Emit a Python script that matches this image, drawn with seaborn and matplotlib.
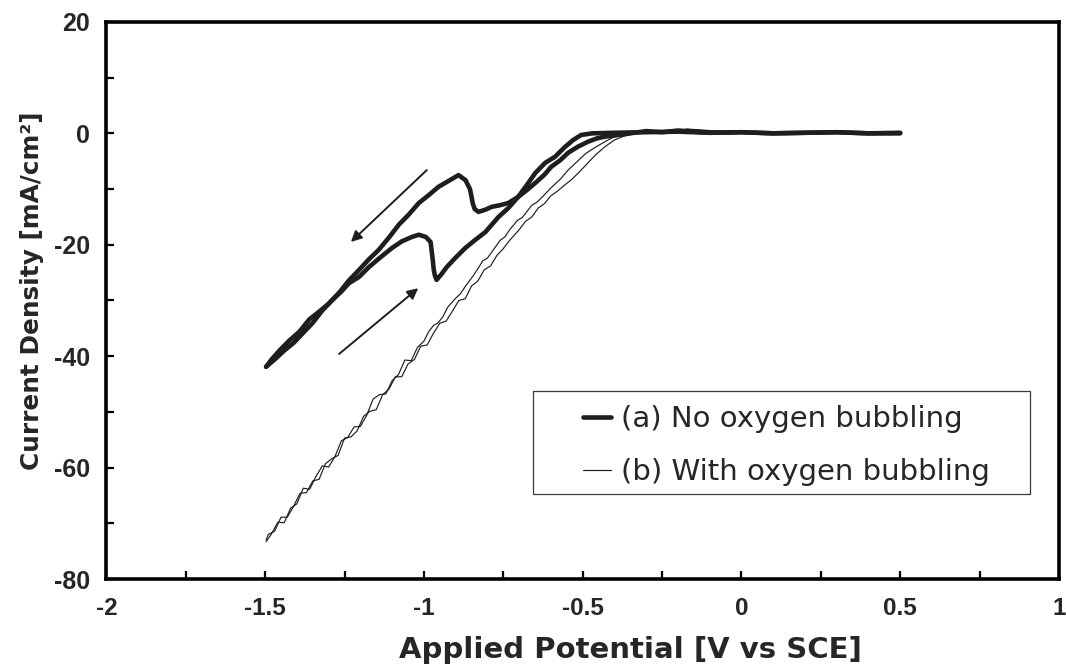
import matplotlib
matplotlib.use("Agg")
import matplotlib.pyplot as plt
import pandas as pd
import seaborn as sns
from matplotlib.lines import Line2D
from matplotlib.patches import Rectangle
from matplotlib.ticker import MultipleLocator

# (a) No oxygen bubbling: cathodic sweep 0.5 V -> -1.5 V
a_fwd_v = [0.50, 0.40, 0.30, 0.20, 0.10, 0.00, -0.10, -0.20, -0.30, -0.40,
           -0.47, -0.505, -0.53, -0.555, -0.587, -0.618, -0.649, -0.671, -0.703, -0.734,
           -0.760, -0.787, -0.806, -0.828, -0.840, -0.846, -0.850, -0.855, -0.869, -0.891,
           -0.915, -0.954, -0.985, -1.016, -1.048, -1.079, -1.110, -1.142, -1.173, -1.204,
           -1.236, -1.267, -1.300, -1.330, -1.361, -1.392, -1.424, -1.455, -1.480, -1.497]
a_fwd_j = [0.1, 0.0, 0.2, 0.1, 0.0, 0.2, 0.1, 0.3, 0.2, 0.1,
           0.0, -0.3, -1.2, -2.4, -4.2, -5.3, -7.1, -8.9, -11.4, -12.5,
           -12.9, -13.2, -13.7, -14.1, -13.6, -12.6, -11.4, -10.0, -8.4, -7.5,
           -8.3, -9.6, -11.1, -12.5, -14.6, -16.4, -18.7, -20.9, -22.6, -24.5,
           -26.4, -28.6, -30.6, -32.0, -33.4, -35.6, -37.2, -39.0, -40.6, -41.9]

# (a) return sweep -1.5 V -> 0.5 V
a_rev_v = [-1.497, -1.47, -1.44, -1.41, -1.38, -1.35, -1.32, -1.29, -1.26, -1.236,
           -1.205, -1.173, -1.140, -1.101, -1.070, -1.038, -1.016, -0.994, -0.979, -0.976,
           -0.972, -0.969, -0.965, -0.960, -0.945, -0.928, -0.900, -0.870, -0.840, -0.806,
           -0.765, -0.734, -0.703, -0.676, -0.649, -0.620, -0.599, -0.570, -0.546, -0.515,
           -0.483, -0.455, -0.430, -0.389, -0.35, -0.30, -0.25, -0.20, -0.15, -0.10,
           0.0, 0.1, 0.2, 0.3, 0.4, 0.5]
a_rev_j = [-41.9, -40.6, -39.0, -37.6, -35.8, -34.0, -31.8, -30.0, -28.4, -26.9,
           -25.8, -24.0, -22.4, -20.6, -19.4, -18.6, -18.2, -18.6, -19.5, -20.9,
           -22.8, -24.5, -25.6, -26.3, -25.3, -24.0, -22.3, -20.6, -19.2, -17.7,
           -15.0, -13.4, -11.4, -10.2, -8.9, -7.4, -6.0, -4.8, -3.5, -2.4,
           -1.5, -0.9, -0.6, -0.3, 0.0, 0.4, 0.2, 0.5, 0.3, 0.1,
           0.2, 0.0, 0.1, 0.2, 0.0, 0.0]

# (b) With oxygen bubbling: cathodic sweep
b_fwd_v = [0.50, 0.30, 0.10, -0.05, -0.15, -0.20, -0.30, -0.36, -0.40, -0.43,
           -0.46, -0.49, -0.52, -0.546, -0.57, -0.60, -0.625, -0.645, -0.66, -0.69,
           -0.705, -0.73, -0.745, -0.76, -0.786, -0.80, -0.815, -0.83, -0.845, -0.87,
           -0.885, -0.90, -0.925, -0.94, -0.955, -0.97, -0.985, -1.00, -1.02, -1.04,
           -1.06, -1.08, -1.10, -1.12, -1.14, -1.16, -1.18, -1.20, -1.22, -1.24,
           -1.26, -1.28, -1.30, -1.32, -1.34, -1.36, -1.38, -1.40, -1.42, -1.44,
           -1.46, -1.48, -1.497]
b_fwd_j = [0.0, 0.1, 0.0, 0.3, 0.7, 0.5, 0.3, 0.0, -0.6, -1.5,
           -2.5, -3.6, -5.2, -6.6, -8.2, -9.8, -11.3, -12.4, -12.9, -15.1,
           -15.6, -17.3, -18.6, -19.2, -21.3, -22.4, -22.9, -24.3, -25.6, -27.5,
           -28.8, -29.6, -31.2, -32.9, -34.0, -34.5, -35.6, -37.3, -38.4, -40.8,
           -40.7, -43.3, -44.4, -46.8, -46.9, -47.7, -50.6, -52.6, -52.7, -54.6,
           -55.2, -58.0, -59.9, -59.7, -61.6, -63.9, -63.7, -66.5, -67.3, -69.9,
           -69.8, -71.9, -73.3]

# (b) return sweep
b_rev_v = [-1.497, -1.49, -1.47, -1.45, -1.43, -1.41, -1.39, -1.37, -1.35, -1.33,
           -1.31, -1.29, -1.27, -1.25, -1.23, -1.21, -1.19, -1.17, -1.15, -1.13,
           -1.11, -1.09, -1.07, -1.05, -1.03, -1.01, -0.99, -0.97, -0.95, -0.93,
           -0.91, -0.89, -0.87, -0.85, -0.83, -0.81, -0.79, -0.77, -0.75, -0.73,
           -0.70, -0.68, -0.66, -0.64, -0.62, -0.60, -0.58, -0.555, -0.535, -0.51,
           -0.485, -0.46, -0.43, -0.40, -0.37, -0.34, -0.31, -0.26, -0.20, -0.17,
           -0.14, -0.10, 0.0, 0.1, 0.2, 0.3, 0.4, 0.5]
b_rev_j = [-73.0, -72.0, -71.4, -68.9, -68.9, -66.9, -64.6, -64.5, -62.4, -62.1,
           -59.3, -58.4, -57.8, -54.7, -54.5, -53.4, -50.8, -49.9, -49.6, -46.9,
           -45.9, -43.7, -43.7, -41.4, -40.6, -38.2, -38.0, -35.9, -34.1, -33.7,
           -31.9, -30.0, -29.7, -27.4, -26.5, -24.5, -23.8, -21.9, -20.7, -19.2,
           -17.3, -15.8, -15.0, -13.4, -12.6, -11.2, -10.4, -9.2, -8.3, -6.9,
           -5.4, -3.9, -2.4, -1.2, -0.5, -0.1, 0.1, 0.3, 0.4, 0.8,
           0.6, 0.3, 0.1, 0.0, 0.1, 0.0, 0.1, 0.0]

# Sweep-direction arrows (tail -> head), in V and mA/cm2
arrow_down = [(-0.991, -6.6), (-1.230, -19.5)]
arrow_up = [(-1.267, -39.6), (-1.018, -27.8)]

x_ticks = [-2, -1.5, -1, -0.5, 0, 0.5, 1]
x_tick_labels = ["-2", "-1.5", "-1", "-0.5", "0", "0.5", "1"]
y_ticks = [20, 0, -20, -40, -60, -80]
y_tick_labels = ["20", "0", "-20", "-40", "-60", "-80"]
series_labels = ["(a) No oxygen bubbling", "(b) With oxygen bubbling"]

INK = "#1e1e1e"
THICK = 3.3
THIN = 0.85

sns.set_theme(style="white")
plt.rcParams["font.family"] = ["Liberation Sans", "DejaVu Sans"]

traces = pd.concat([
    pd.DataFrame({"V": a_fwd_v, "J": a_fwd_j, "trace": "a_fwd"}),
    pd.DataFrame({"V": a_rev_v, "J": a_rev_j, "trace": "a_rev"}),
    pd.DataFrame({"V": b_fwd_v, "J": b_fwd_j, "trace": "b_fwd"}),
    pd.DataFrame({"V": b_rev_v, "J": b_rev_j, "trace": "b_rev"}),
], ignore_index=True)

fig = plt.figure(figsize=(10.66, 6.64), dpi=100)
ax = fig.add_axes([0.0998, 0.128, 0.8936, 0.839])

for name, lw in [("b_fwd", THIN), ("b_rev", THIN), ("a_fwd", THICK), ("a_rev", THICK)]:
    sns.lineplot(data=traces[traces["trace"] == name], x="V", y="J", sort=False,
                 estimator=None, color=INK, linewidth=lw, ax=ax,
                 solid_joinstyle="round", solid_capstyle="round")

for tail, head in (arrow_down, arrow_up):
    ax.annotate("", xy=head, xytext=tail,
                arrowprops=dict(arrowstyle="-|>", color=INK, lw=1.4,
                                mutation_scale=16, shrinkA=0, shrinkB=0))

ax.set_xlim(-2, 1)
ax.set_ylim(-80, 20)
ax.set_xticks(x_ticks, x_tick_labels)
ax.set_yticks(y_ticks, y_tick_labels)
ax.xaxis.set_minor_locator(MultipleLocator(0.25))
ax.yaxis.set_minor_locator(MultipleLocator(10))
ax.tick_params(which="both", direction="in", length=6, width=1.6, color="black",
               bottom=True, left=True, top=False, right=False)
ax.tick_params(axis="y", which="major", pad=12, labelsize=18)
ax.tick_params(axis="x", which="major", pad=13, labelsize=17.5)
for lab in ax.get_xticklabels() + ax.get_yticklabels():
    lab.set_fontweight("bold")
for sp in ax.spines.values():
    sp.set_visible(True)
    sp.set_linewidth(2.6)
    sp.set_color("black")

ax.set_xlabel("Applied Potential [V vs SCE]", fontsize=21, fontweight="bold",
              family=["DejaVu Sans"])
ax.set_ylabel("Current Density [mA/cm²]", fontsize=17.8, fontweight="bold",
              family=["DejaVu Sans"])
ax.xaxis.set_label_coords(0.55, -0.102)
ax.yaxis.set_label_coords(-0.066, 0.517)

handles = [Line2D([], [], color=INK, lw=THICK), Line2D([], [], color=INK, lw=THIN)]
ax.legend(handles, series_labels, loc="center left",
          bbox_to_anchor=(0.547, 0.329), bbox_transform=fig.transFigure,
          frameon=False, borderpad=0, borderaxespad=0, handlelength=0.95,
          handletextpad=0.35, labelspacing=0.85,
          prop={"family": "DejaVu Sans", "size": 21})
ax.add_patch(Rectangle((0.4997, 0.2556), 0.4665, 0.156, transform=fig.transFigure,
                       fill=False, edgecolor="#3a3a3a", linewidth=0.9, zorder=5))

fig.savefig("out.png", dpi=100)
